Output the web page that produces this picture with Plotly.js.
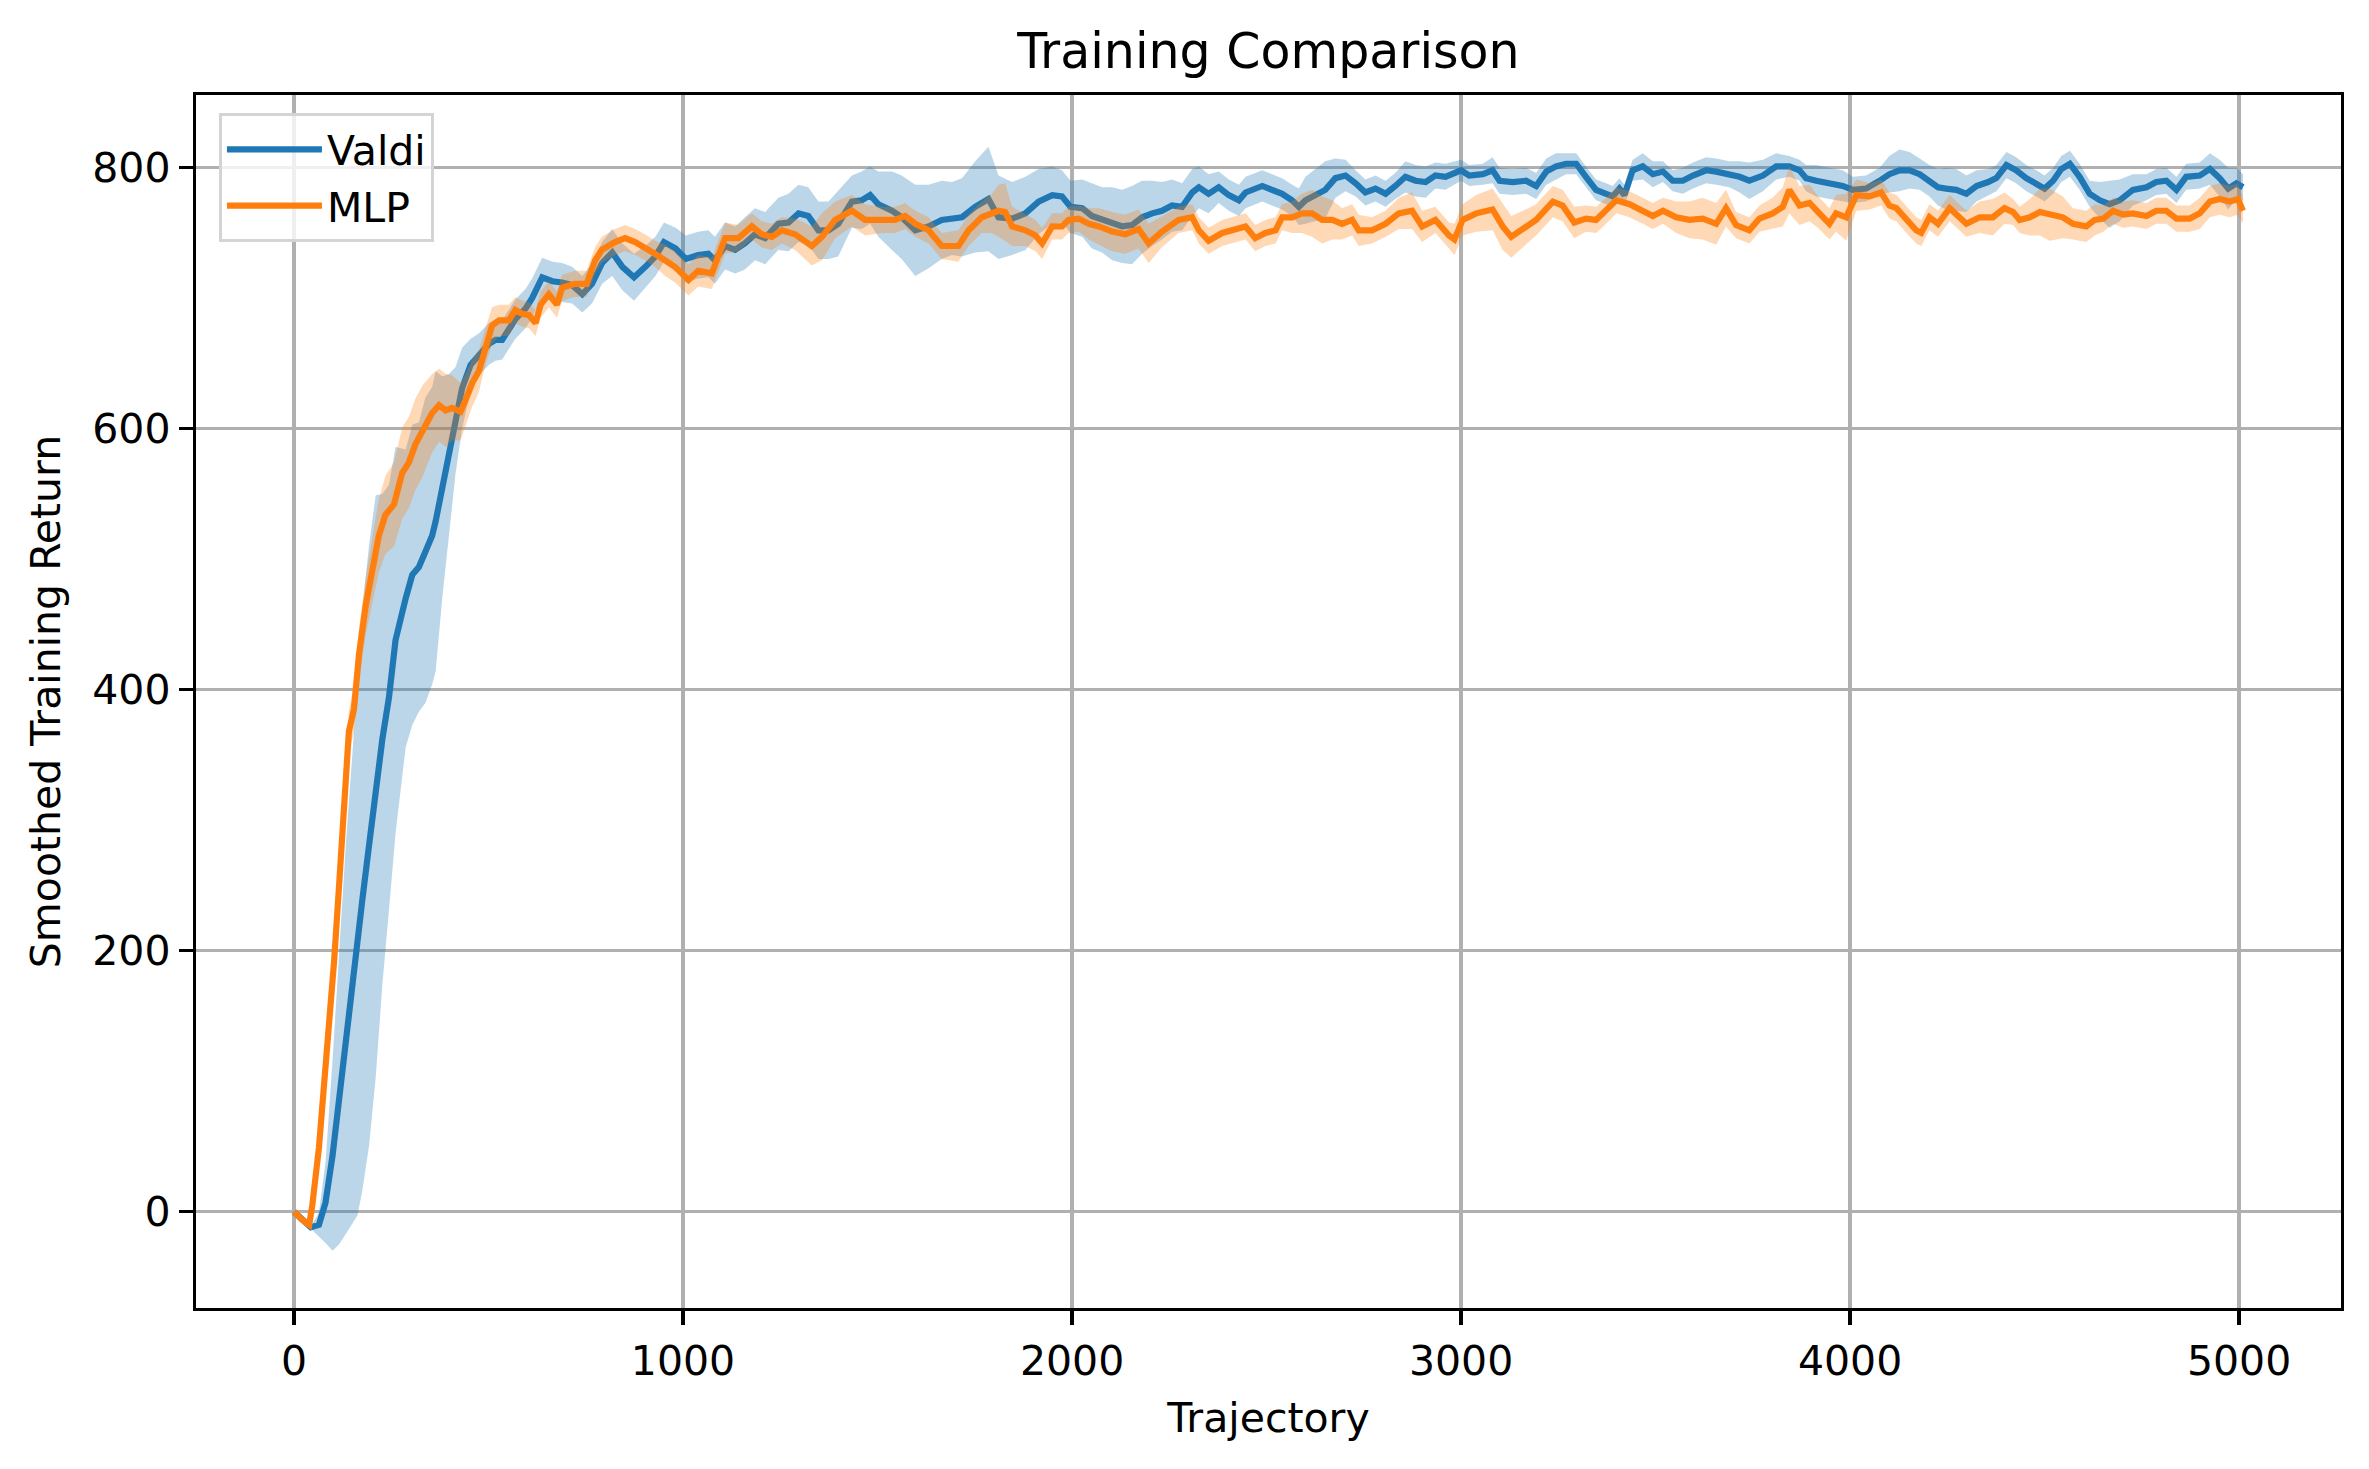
<!DOCTYPE html>
<html>
<head>
<meta charset="utf-8">
<script src="https://cdn.plot.ly/plotly-3.0.1.min.js"></script>
<style>html,body{margin:0;padding:0;background:#fff;}#chart{width:2369px;height:1469px;}</style>
</head>
<body>
<div id="chart"></div>
<script>
// ---- Valdi (blue) : trajectory, smoothed return, band half-width ----
const valdiX = [0,20,43,64,81,99,116,133,150,163,176,193,210,227,244,261,287,304,321,338,355,364,381,398,415,432,454,475,501,518,535,552,569,595,612,638,664,689,715,741,766,792,818,844,874,903,929,951,981,1007,1039,1065,1082,1108,1134,1159,1185,1211,1245,1271,1297,1322,1348,1374,1399,1434,1459,1481,1502,1537,1562,1597,1631,1665,1691,1717,1751,1785,1811,1846,1880,1914,1949,1974,1996,2026,2051,2077,2103,2129,2154,2180,2206,2231,2257,2283,2309,2326,2351,2377,2403,2429,2446,2489,2514,2540,2566,2583,2600,2626,2651,2677,2703,2729,2754,2780,2806,2831,2857,2883,2909,2934,2960,3000,3021,3056,3081,3099,3133,3167,3193,3219,3244,3270,3296,3321,3347,3373,3390,3407,3420,3441,3467,3493,3519,3544,3570,3596,3630,3656,3690,3716,3741,3776,3810,3844,3870,3887,3913,3947,3981,4007,4041,4076,4101,4127,4153,4179,4204,4226,4247,4273,4299,4325,4355,4376,4402,4427,4453,4479,4500,4522,4543,4565,4590,4616,4642,4667,4693,4727,4762,4787,4813,4839,4864,4899,4925,4950,4972,4993,5010];
const valdiY = [0,-5,-12,-10,7,43,88,132,171,204,240,281,326,362,394,438,470,488,494,507,518,529,555,580,606,631,649,657,665,668,668,676,684,692,700,716,713,712,710,703,711,727,735,724,716,724,732,743,738,730,733,734,729,740,737,742,749,746,757,758,765,763,752,752,757,774,775,779,772,767,762,752,755,760,761,762,770,776,762,761,765,774,779,778,770,769,763,760,757,755,756,762,765,767,771,770,781,785,780,785,779,775,781,786,783,780,775,770,775,779,783,792,794,788,781,784,780,786,793,790,789,794,793,798,794,795,798,790,789,790,786,797,801,803,803,793,783,780,778,784,779,798,801,795,797,790,790,794,798,797,795,793,790,794,801,801,798,792,790,788,786,783,784,790,795,798,798,795,790,785,784,783,780,786,789,792,802,798,792,788,784,790,799,803,793,780,775,772,775,783,785,789,790,783,793,794,799,792,784,788,785];
const valdiSpread = [0,0,1,9,31,73,113,149,180,207,223,230,223,188,163,148,114,115,111,117,114,115,85,62,41,31,20,16,16,16,15,15,15,15,15,15,15,15,14,14,15,16,18,18,18,16,15,15,16,18,18,18,18,18,18,20,20,20,20,22,22,22,22,22,25,20,22,22,25,30,32,35,32,30,28,30,35,40,32,28,28,25,22,20,20,22,25,25,28,28,30,28,25,22,20,18,18,16,15,12,12,12,12,12,12,12,12,14,18,20,22,15,12,10,10,10,10,10,12,12,12,10,10,8,8,8,10,10,10,10,10,10,10,8,8,8,8,8,8,8,8,8,10,10,8,8,10,10,10,10,10,12,14,12,10,8,8,10,12,12,12,10,10,10,14,16,14,12,12,14,16,16,14,12,10,10,10,10,10,10,10,10,10,10,10,10,14,18,16,12,10,10,10,10,10,10,12,14,16,12,10,10,8];

// ---- MLP (orange) ----
const mlpX = [0,20,39,47,64,73,90,103,116,129,141,154,167,184,201,218,235,257,278,295,312,330,355,373,390,406,428,441,458,475,492,509,527,552,569,587,604,621,634,655,676,689,722,752,774,791,825,851,877,902,928,954,979,1014,1039,1074,1108,1142,1177,1202,1228,1254,1288,1331,1357,1391,1434,1468,1511,1545,1571,1597,1631,1665,1708,1734,1768,1794,1811,1828,1846,1880,1906,1923,1949,1974,1991,2017,2043,2069,2103,2137,2171,2197,2231,2274,2309,2326,2351,2386,2411,2446,2471,2497,2523,2540,2566,2591,2617,2643,2669,2694,2720,2737,2771,2806,2840,2874,2900,2934,2969,2983,3004,3039,3081,3107,3129,3159,3193,3236,3261,3291,3321,3347,3373,3399,3433,3467,3493,3519,3553,3587,3621,3656,3681,3707,3741,3767,3801,3827,3844,3870,3896,3921,3947,3964,3990,4016,4050,4080,4101,4119,4145,4170,4183,4204,4226,4256,4281,4299,4333,4367,4397,4419,4436,4462,4488,4513,4547,4573,4607,4629,4651,4676,4702,4727,4762,4787,4813,4839,4873,4899,4925,4950,4976,4997,5010];
const mlpY = [0,-6,-10,5,49,82,132,192,251,311,368,385,427,464,491,518,534,542,566,574,588,598,612,618,614,616,613,622,635,644,663,679,683,683,691,688,687,681,695,703,695,708,711,711,729,737,743,746,743,739,734,729,724,714,721,719,746,746,755,749,747,752,749,740,747,760,767,760,760,760,763,757,752,740,740,752,762,765,767,766,755,752,748,742,755,755,760,761,757,755,751,749,753,742,751,760,762,752,744,750,752,755,746,750,752,762,762,765,765,760,760,757,760,752,752,757,765,767,755,760,748,745,760,765,768,755,747,753,760,774,771,758,761,760,767,775,772,767,763,767,762,760,761,757,769,756,752,761,765,770,783,771,773,765,757,765,762,779,778,781,771,769,760,752,750,762,757,769,762,757,762,762,769,766,760,762,766,764,762,757,755,760,761,767,764,765,763,767,767,761,761,765,774,776,774,776,767];
const mlpSpread = [0,0,0,1,4,6,8,10,12,14,16,18,20,22,25,28,30,32,35,35,35,35,30,28,28,25,22,20,18,16,14,14,12,12,10,10,10,10,10,10,10,10,10,10,10,10,10,10,10,10,10,12,12,12,12,12,12,10,10,10,10,10,12,15,18,14,12,12,10,10,10,10,10,10,12,12,12,15,20,22,15,12,12,12,10,10,10,10,12,14,15,15,15,15,12,10,10,10,10,10,10,10,10,10,10,10,12,15,18,18,15,12,12,12,10,10,12,14,12,10,10,12,12,14,16,18,16,14,12,12,12,12,10,10,10,10,10,10,10,10,12,14,16,16,14,10,10,10,12,15,18,15,14,12,12,14,18,12,10,10,10,10,10,10,10,10,10,10,10,10,12,14,12,10,10,14,18,20,16,12,12,12,10,10,10,10,10,10,10,10,10,12,12,12,12,12,10];

const seriesNames = ["Valdi", "MLP"];
const lineColors = ["#1f77b4", "#ff7f0e"];
const bandColors = ["rgba(31,119,180,0.3)", "rgba(255,127,14,0.3)"];
const xTicks = [0, 1000, 2000, 3000, 4000, 5000];
const yTicks = [0, 200, 400, 600, 800];

function band(xs, ys, sp, i) {
  const lo = ys.map((v, k) => v - sp[k]);
  const hi = ys.map((v, k) => v + sp[k]);
  return [
    {x: xs, y: lo, type: "scatter", mode: "lines", line: {width: 0, color: bandColors[i]}, showlegend: false, hoverinfo: "skip"},
    {x: xs, y: hi, type: "scatter", mode: "lines", line: {width: 0, color: bandColors[i]}, fill: "tonexty", fillcolor: bandColors[i], showlegend: false, hoverinfo: "skip"}
  ];
}

const traces = [].concat(
  band(valdiX, valdiY, valdiSpread, 0),
  [{x: valdiX, y: valdiY, type: "scatter", mode: "lines", name: seriesNames[0], legendgroup: "a", line: {color: lineColors[0], width: 6.2}}],
  band(mlpX, mlpY, mlpSpread, 1),
  [{x: mlpX, y: mlpY, type: "scatter", mode: "lines", name: seriesNames[1], legendgroup: "b", line: {color: lineColors[1], width: 6.2}}]
);

const font = "DejaVu Sans, sans-serif";
const axisCommon = {
  showline: true, linecolor: "#000", linewidth: 3.3, mirror: true,
  ticks: "outside", ticklen: 14, tickwidth: 3.3, tickcolor: "#000",
  showgrid: true, gridcolor: "#b0b0b0", gridwidth: 3.3, zeroline: false,
  tickfont: {family: font, size: 41, color: "#000"}
};

const layout = {
  width: 2369, height: 1469,
  paper_bgcolor: "#fff", plot_bgcolor: "#fff",
  margin: {l: 196, r: 28, t: 95, b: 161},
  title: {text: "Training Comparison", font: {family: font, size: 49, color: "#000"}, x: 0.5, xref: "paper", y: 1 - 51/1469, yref: "container", yanchor: "middle"},
  xaxis: Object.assign({}, axisCommon, {
    range: [-252, 5262], tickvals: xTicks, ticktext: xTicks.map(String),
    title: {text: "Trajectory", font: {family: font, size: 41, color: "#000"}, standoff: 20}
  }),
  yaxis: Object.assign({}, axisCommon, {
    range: [-73.8, 855.7], tickvals: yTicks, ticktext: yTicks.map(String),
    title: {text: "Smoothed Training Return", font: {family: font, size: 41, color: "#000"}, standoff: 20}
  }),
  legend: {
    x: 0.0107, y: 0.985, xanchor: "left", yanchor: "top",
    traceorder: "normal", tracegroupgap: 8, itemwidth: 95,
    entrywidth: 230, entrywidthmode: "pixels",
    bgcolor: "rgba(255,255,255,0.8)", bordercolor: "#d4d4d4", borderwidth: 3,
    font: {family: font, size: 41, color: "#000"}
  },
  showlegend: true
};

Plotly.newPlot("chart", traces, layout, {staticPlot: true, displayModeBar: false});
</script>
</body>
</html>
